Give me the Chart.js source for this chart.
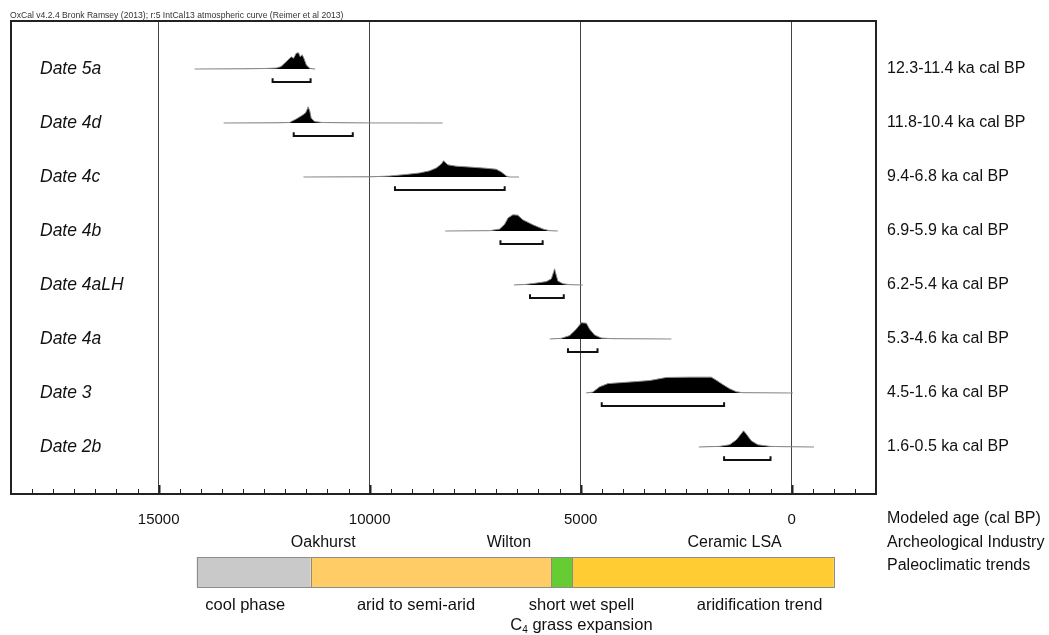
<!DOCTYPE html>
<html>
<head>
<meta charset="utf-8">
<script src="https://cdn.jsdelivr.net/npm/chart.js@4.4.1/dist/chart.umd.min.js"></script>
<style>
  html, body { margin: 0; padding: 0; background: #fff; }
</style>
</head>
<body>
<canvas id="myChart" width="1049" height="635"></canvas>
<script>
// dates, top to bottom
const dateNames = ["Date 5a", "Date 4d", "Date 4c", "Date 4b", "Date 4aLH", "Date 4a", "Date 3", "Date 2b"];
// 95% ranges, cal BP
const rangeFrom = [12300, 11800, 9400, 6900, 6200, 5300, 4500, 1600];
const rangeTo = [11400, 10400, 6800, 5900, 5400, 4600, 1600, 500];

// posterior densities: [year cal BP, relative height]
const dens5a = [[14150, 0], [13000, 0.01], [12500, 0.03], [12210, 0.06], [12100, 0.15], [12016, 0.36], [11935, 0.56], [11860, 0.75], [11800, 0.67], [11740, 0.98], [11685, 1], [11645, 0.75], [11600, 0.88], [11560, 0.67], [11500, 0.25], [11420, 0.04], [11350, 0.01], [11290, 0]];
const dens4d = [[13460, 0], [12200, 0.01], [11900, 0.03], [11740, 0.25], [11620, 0.44], [11520, 0.62], [11480, 0.85], [11460, 1], [11420, 0.75], [11385, 0.3], [11300, 0.09], [11120, 0.03], [10500, 0.01], [10000, 0.005], [8270, 0]];
const dens4c = [[11570, 0], [10000, 0.01], [9530, 0.06], [9130, 0.16], [8820, 0.25], [8580, 0.38], [8420, 0.56], [8300, 0.81], [8250, 1], [8145, 0.75], [7950, 0.67], [7550, 0.6], [7240, 0.54], [7000, 0.48], [6880, 0.31], [6760, 0.06], [6680, 0], [6460, 0]];
const dens4b = [[8210, 0], [7160, 0.02], [6920, 0.12], [6800, 0.42], [6720, 0.81], [6605, 1], [6490, 0.98], [6370, 0.69], [6130, 0.38], [5890, 0.12], [5735, 0.02], [5540, 0]];
const dens4aLH = [[6580, 0], [6290, 0.04], [6050, 0.12], [5815, 0.21], [5695, 0.38], [5640, 0.81], [5617, 1], [5593, 0.75], [5540, 0.25], [5420, 0.08], [5260, 0.02], [4950, 0]];
const dens4a = [[5735, 0], [5460, 0.04], [5260, 0.21], [5100, 0.62], [4985, 1], [4865, 0.98], [4790, 0.62], [4670, 0.25], [4510, 0.06], [4235, 0.02], [2850, 0]];
const dens3 = [[4870, 0], [4710, 0.06], [4550, 0.38], [4355, 0.58], [4155, 0.62], [3760, 0.69], [3365, 0.77], [2970, 0.96], [2415, 0.98], [1905, 0.98], [1785, 0.79], [1630, 0.52], [1470, 0.27], [1310, 0.08], [1155, 0.02], [-30, 0]];
const dens2b = [[2200, 0], [1705, 0.04], [1470, 0.14], [1310, 0.44], [1190, 0.83], [1140, 1], [1075, 0.81], [955, 0.38], [800, 0.14], [520, 0.04], [205, 0.02], [-530, 0]];
const densities = [dens5a, dens4d, dens4c, dens4b, dens4aLH, dens4a, dens3, dens2b];

// axis
const majorTicks = [15000, 10000, 5000, 0];
const axisMin = -2000;
const axisMax = 18500;

// archaeological industries and climate phases under the axis
const industryNames = ["Oakhurst", "Wilton", "Ceramic LSA"];
const industryAt = [11100, 6700, 1350];
const climateNames = ["cool phase", "arid to semi-arid", "short wet spell", "aridification trend"];
const climateFrom = [14100, 11400, 5700, 5200];
const climateTo = [11400, 5700, 5200, -1000];
const climateLabelAt = [12950, 8900, 4980, 760];

const climateColors = ["#c9c9c9", "#ffcc66", "#66cc33", "#ffcc33"];
const FONT = "'Liberation Sans', Arial, sans-serif";
const PEAK = 0.3;      // peak height in row units
const DROP = 0.24;     // bracket below baseline
const LIP = 0.07;

const n = dateNames.length;
const rowOf = (i) => n - 1 - i;

const datasets = [];
densities.forEach((d, i) => {
  const r = rowOf(i);
  datasets.push({
    data: d.map(([yr, h]) => ({ x: yr, y: r + h * PEAK })),
    borderColor: "#8a8a8a",
    borderWidth: 1,
    backgroundColor: "#000",
    fill: { value: r },
    pointRadius: 0,
    tension: 0,
  });
});
rangeFrom.forEach((s, i) => {
  const r = rowOf(i);
  const e = rangeTo[i];
  datasets.push({
    data: [
      { x: s, y: r - DROP + LIP },
      { x: s, y: r - DROP },
      { x: e, y: r - DROP },
      { x: e, y: r - DROP + LIP },
    ],
    borderColor: "#111",
    borderWidth: 2,
    borderJoinStyle: "miter",
    fill: false,
    pointRadius: 0,
  });
});

const extras = {
  id: "extras",
  afterDatasetsDraw(chart) {
    const { ctx, chartArea: a, scales } = chart;
    const x = scales.x;
    ctx.save();

    // frame
    ctx.strokeStyle = "#222";
    ctx.lineWidth = 2;
    ctx.strokeRect(a.left, a.top, a.right - a.left, a.bottom - a.top);

    // inner tick marks every 500 years
    for (let v = axisMin + 500; v < axisMax; v += 500) {
      const px = Math.round(x.getPixelForValue(v)) + 0.5;
      const major = majorTicks.includes(v);
      ctx.lineWidth = major ? 2 : 1;
      ctx.beginPath();
      ctx.moveTo(px, a.bottom);
      ctx.lineTo(px, a.bottom - (major ? 9 : 5));
      ctx.stroke();
    }

    // header
    ctx.fillStyle = "#333";
    ctx.font = "8.6px " + FONT;
    ctx.textAlign = "left";
    ctx.textBaseline = "alphabetic";
    ctx.fillText("OxCal v4.2.4 Bronk Ramsey (2013); r:5 IntCal13 atmospheric curve (Reimer et al 2013)", 10, 18);

    // right-hand row titles
    ctx.fillStyle = "#111";
    ctx.font = "16px " + FONT;
    ctx.textBaseline = "middle";
    const rx = a.right + 11;
    ctx.fillText("Modeled age (cal BP)", rx, a.bottom + 25);
    ctx.fillText("Archeological Industry", rx, a.bottom + 49);
    ctx.fillText("Paleoclimatic trends", rx, a.bottom + 72);

    // industries
    ctx.textAlign = "center";
    industryNames.forEach((t, i) => {
      ctx.fillText(t, x.getPixelForValue(industryAt[i]), a.bottom + 49);
    });

    // climate bar
    const top = a.bottom + 63, h = 30;
    climateNames.forEach((t, i) => {
      const x0 = x.getPixelForValue(climateFrom[i]);
      const x1 = x.getPixelForValue(climateTo[i]);
      ctx.fillStyle = climateColors[i];
      ctx.fillRect(x0, top, x1 - x0, h);
      ctx.strokeStyle = "#8c8c8c";
      ctx.lineWidth = 1;
      ctx.strokeRect(Math.round(x0) + 0.5, top + 0.5, Math.round(x1 - x0), h);
    });

    ctx.fillStyle = "#111";
    ctx.font = "16.5px " + FONT;
    climateNames.forEach((t, i) => {
      ctx.fillText(t, x.getPixelForValue(climateLabelAt[i]), a.bottom + 111);
    });

    // C4 grass expansion, with subscript
    const cx = x.getPixelForValue(climateLabelAt[2]);
    const y2 = a.bottom + 131;
    const wC = ctx.measureText("C").width;
    ctx.font = "10px " + FONT;
    const w4 = ctx.measureText("4").width;
    ctx.font = "16.5px " + FONT;
    const wRest = ctx.measureText(" grass expansion").width;
    let sx = cx - (wC + w4 + wRest) / 2;
    ctx.textAlign = "left";
    ctx.fillText("C", sx, y2);
    ctx.font = "10px " + FONT;
    ctx.fillText("4", sx + wC, y2 + 5);
    ctx.font = "16.5px " + FONT;
    ctx.fillText(" grass expansion", sx + wC + w4, y2);

    ctx.restore();
  },
};

const rowTicks = dateNames.map((_, i) => ({ value: rowOf(i) }));
const noPad = (s) => { s.paddingTop = 0; s.paddingBottom = 0; };

new Chart(document.getElementById("myChart"), {
  type: "line",
  data: { datasets },
  options: {
    responsive: false,
    animation: false,
    layout: { padding: { left: 11, top: 21, right: 0, bottom: 0 } },
    plugins: { legend: { display: false }, tooltip: { enabled: false } },
    scales: {
      x: {
        type: "linear",
        min: axisMin,
        max: axisMax,
        reverse: true,
        afterBuildTicks: (s) => {
          s.ticks = majorTicks.map((v) => ({ value: v }));
        },
        afterFit: (s) => { s.height = 141; s.paddingLeft = 0; s.paddingRight = 0; },
        ticks: {
          autoSkip: false,
          maxRotation: 0,
          padding: 17,
          color: "#111",
          font: { family: FONT, size: 15 },
          callback: (v) => String(v),
        },
        grid: { color: "#444", lineWidth: 1, drawTicks: false },
        border: { display: false },
      },
      y: {
        type: "linear",
        position: "left",
        min: -0.87,
        max: 7.889,
        afterBuildTicks: (s) => { s.ticks = rowTicks.map((t) => ({ ...t })); },
        afterFit: (s) => { s.width = 0; noPad(s); },
        ticks: {
          mirror: true,
          padding: 29,
          color: "#111",
          font: { family: FONT, size: 17.5, style: "italic" },
          callback: (v) => dateNames[n - 1 - v],
        },
        grid: { display: false },
        border: { display: false },
      },
      y2: {
        type: "linear",
        position: "right",
        min: -0.87,
        max: 7.889,
        afterBuildTicks: (s) => { s.ticks = rowTicks.map((t) => ({ ...t })); },
        afterFit: (s) => { s.width = 173; noPad(s); },
        ticks: {
          padding: 3,
          color: "#111",
          font: { family: FONT, size: 16 },
          callback: (v) => {
            const i = n - 1 - v;
            return `${(rangeFrom[i] / 1000).toFixed(1)}-${(rangeTo[i] / 1000).toFixed(1)} ka cal BP`;
          },
        },
        grid: { display: false },
        border: { display: false },
      },
    },
  },
  plugins: [extras],
});
</script>
</body>
</html>
